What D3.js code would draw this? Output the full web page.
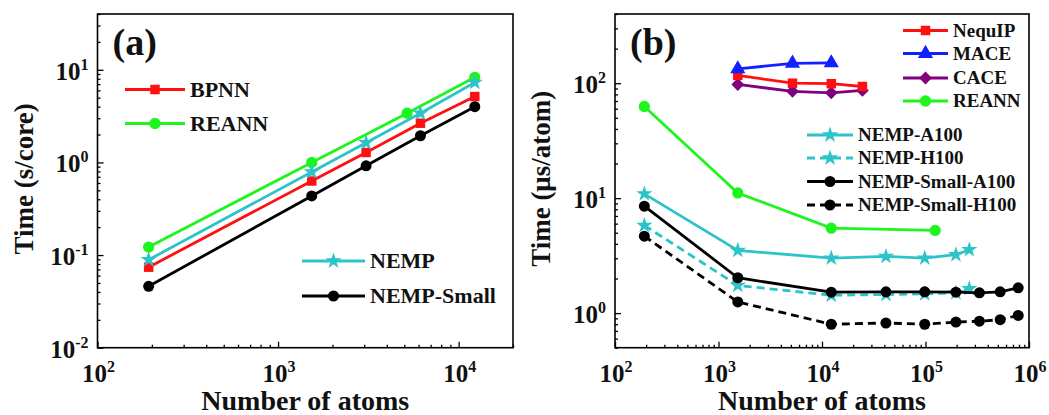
<!DOCTYPE html>
<html>
<head>
<meta charset="utf-8">
<script src="https://cdn.jsdelivr.net/npm/d3@7"></script>
<style>
  body { margin: 0; background: #fff; }
  text { font-family: "Liberation Serif", "Times New Roman", serif; font-weight: bold; fill: #111; }
</style>
</head>
<body>
<div id="chart"></div>
<script>
// ---- panel (a) data: time per core vs number of atoms ----
const atomsA = [192, 1536, 3072, 6144, 12288];
const atomsReannA = [192, 1536, 5184, 12288];
const bpnnA = [0.074, 0.63, 1.28, 2.65, 5.14];
const reannA = [0.122, 1.0, 3.4, 8.3];
const nempA = [0.089, 0.79, 1.63, 3.4, 7.3];
const nempSmallA = [0.046, 0.435, 0.92, 1.94, 4.0];

// ---- panel (b) data: time per atom vs number of atoms ----
const atomsNequip = [1536, 5184, 12288, 24576];
const nequipB = [117, 100, 99, 93.6];
const atomsMace = [1536, 5184, 12288];
const maceB = [133, 149, 150];
const caceB = [97.5, 85, 82.5, 86.5];
const atomsReannB = [192, 1536, 12288, 124000];
const reannB = [62.7, 11.1, 5.48, 5.24];
const atomsNemp = [192, 1536, 12288, 41472, 98304, 196608, 265000];
const nempA100 = [10.9, 3.51, 3.01, 3.11, 3.01, 3.22, 3.56];
const nempH100 = [5.79, 1.74, 1.43, 1.45, 1.47, 1.5, 1.63];
const atomsSmall = [192, 1536, 12288, 41472, 98304, 196608, 331776, 526848, 786432];
const smallA100 = [8.52, 2.03, 1.52, 1.53, 1.53, 1.52, 1.5, 1.53, 1.66];
const smallH100 = [4.67, 1.25, 0.8, 0.82, 0.8, 0.835, 0.85, 0.876, 0.955];

// tick labels (exponents of the decades)
const xExpA = [2, 3, 4];
const yExpA = [-2, -1, 0, 1];
const xExpB = [2, 3, 4, 5, 6];
const yExpB = [0, 1, 2];

const colors = {
  red: "#ff1010",
  green: "#1ef51e",
  cyan: "#2cc4c8",
  black: "#000000",
  blue: "#1020ff",
  purple: "#800080",
};

const W = 1049, H = 415;
const svg = d3.select("#chart").append("svg")
  .attr("width", W).attr("height", H);

const zip = (xs, ys) => xs.map((x, i) => ({ x: x, y: ys[i] }));

// each panel: box in pixels plus log domains
const panelA = {
  left: 97.5, right: 513, top: 14, bottom: 347.7,
  xDomain: [100, 20000], yDomain: [0.01, 40],
  xExp: xExpA, yExp: yExpA,
  tag: "(a)", yTitle: "Time (s/core)",
  series: [
    { name: "BPNN", data: zip(atomsA, bpnnA), color: colors.red, symbol: d3.symbolSquare, size: 90 },
    { name: "REANN", data: zip(atomsReannA, reannA), color: colors.green, symbol: d3.symbolCircle, size: 100 },
    { name: "NEMP", data: zip(atomsA, nempA), color: colors.cyan, symbol: d3.symbolStar, size: 82 },
    { name: "NEMP-Small", data: zip(atomsA, nempSmallA), color: colors.black, symbol: d3.symbolCircle, size: 95 },
  ],
};

const panelB = {
  left: 615, right: 1029, top: 14, bottom: 347.7,
  xDomain: [100, 1e6], yDomain: [0.5, 400],
  xExp: xExpB, yExp: yExpB,
  tag: "(b)", yTitle: "Time (\u03bcs/atom)",
  series: [
    { name: "NEMP-Small-H100", data: zip(atomsSmall, smallH100), color: colors.black, symbol: d3.symbolCircle, size: 95, dash: "8,5" },
    { name: "NEMP-H100", data: zip(atomsNemp, nempH100), color: colors.cyan, symbol: d3.symbolStar, size: 82, dash: "8,5" },
    { name: "NEMP-Small-A100", data: zip(atomsSmall, smallA100), color: colors.black, symbol: d3.symbolCircle, size: 95 },
    { name: "NEMP-A100", data: zip(atomsNemp, nempA100), color: colors.cyan, symbol: d3.symbolStar, size: 82 },
    { name: "REANN", data: zip(atomsReannB, reannB), color: colors.green, symbol: d3.symbolCircle, size: 100 },
    { name: "CACE", data: zip(atomsNequip, caceB), color: colors.purple, symbol: d3.symbolDiamond2, size: 105 },
    { name: "NequIP", data: zip(atomsNequip, nequipB), color: colors.red, symbol: d3.symbolSquare, size: 90 },
    { name: "MACE", data: zip(atomsMace, maceB), color: colors.blue, symbol: d3.symbolTriangle, size: 100 },
  ],
};

// legend rows: series name, start of sample line, row height
const legendA = [
  { name: "BPNN", x: 125, y: 89.5, len: 60 },
  { name: "REANN", x: 125, y: 123.5, len: 60 },
  { name: "NEMP", x: 302, y: 261, len: 63 },
  { name: "NEMP-Small", x: 302, y: 296, len: 63 },
];
const legendB = [
  { name: "NequIP", x: 903, y: 30.5, len: 45 },
  { name: "MACE", x: 903, y: 53.5, len: 45 },
  { name: "CACE", x: 903, y: 78, len: 45 },
  { name: "REANN", x: 903, y: 101, len: 45 },
  { name: "NEMP-A100", x: 807, y: 135, len: 46 },
  { name: "NEMP-H100", x: 807, y: 158, len: 46 },
  { name: "NEMP-Small-A100", x: 807, y: 181.5, len: 46 },
  { name: "NEMP-Small-H100", x: 807, y: 205, len: 46 },
];

drawPanel(panelA, legendA, 22);
drawPanel(panelB, legendB, 19);

function minorTicks(domain) {
  const out = [];
  for (let e = Math.floor(Math.log10(domain[0])); e <= Math.ceil(Math.log10(domain[1])); e++) {
    for (let m = 2; m <= 9; m++) {
      const v = m * Math.pow(10, e);
      if (v >= domain[0] && v <= domain[1]) out.push(v);
    }
  }
  return out;
}

function drawPanel(p, legend, legendFont) {
  const x = d3.scaleLog().domain(p.xDomain).range([p.left, p.right]);
  const y = d3.scaleLog().domain(p.yDomain).range([p.bottom, p.top]);
  const g = svg.append("g");

  // inward major + minor ticks, labels drawn separately
  const majorX = p.xExp.map(e => Math.pow(10, e));
  const majorY = p.yExp.map(e => Math.pow(10, e));
  g.append("g").attr("transform", `translate(0,${p.bottom})`)
    .call(d3.axisBottom(x).tickValues(majorX).tickSize(-6).tickFormat(""))
    .call(a => a.select(".domain").remove());
  g.append("g").attr("transform", `translate(0,${p.bottom})`)
    .call(d3.axisBottom(x).tickValues(minorTicks(p.xDomain)).tickSize(-3).tickFormat(""))
    .call(a => a.select(".domain").remove());
  g.append("g").attr("transform", `translate(${p.left},0)`)
    .call(d3.axisLeft(y).tickValues(majorY).tickSize(-6).tickFormat(""))
    .call(a => a.select(".domain").remove());
  g.append("g").attr("transform", `translate(${p.left},0)`)
    .call(d3.axisLeft(y).tickValues(minorTicks(p.yDomain)).tickSize(-3).tickFormat(""))
    .call(a => a.select(".domain").remove());
  g.selectAll(".tick line").attr("stroke", "#000").attr("stroke-width", 1.3);

  // frame
  g.append("rect")
    .attr("x", p.left).attr("y", p.top)
    .attr("width", p.right - p.left).attr("height", p.bottom - p.top)
    .attr("fill", "none").attr("stroke", "#000").attr("stroke-width", 1.6);

  // x tick labels
  p.xExp.forEach(e => {
    const t = g.append("text").attr("x", x(Math.pow(10, e)) + 1).attr("y", 382)
      .attr("text-anchor", "middle").style("font-size", "25px");
    t.append("tspan").text("10");
    t.append("tspan").attr("dy", -10).style("font-size", "16px").text(e);
  });
  // y tick labels
  p.yExp.forEach(e => {
    const t = g.append("text").attr("x", p.left - 9).attr("y", y(Math.pow(10, e)) + 10)
      .attr("text-anchor", "end").style("font-size", "25px");
    t.append("tspan").text("10");
    t.append("tspan").attr("dy", -10).style("font-size", "16px").text(e);
  });

  // axis titles
  g.append("text")
    .attr("x", (p.left + p.right) / 2).attr("y", 410)
    .attr("text-anchor", "middle").style("font-size", "28px")
    .text("Number of atoms");
  g.append("text")
    .attr("transform", `translate(${p.left - 65},${(p.top + p.bottom) / 2 - 2}) rotate(-90)`)
    .attr("text-anchor", "middle").style("font-size", "27px")
    .text(p.yTitle);

  // panel tag
  g.append("text").attr("x", p.left + 15).attr("y", 55)
    .style("font-size", "38px").text(p.tag);

  // data lines and markers
  const line = d3.line().x(d => x(d.x)).y(d => y(d.y));
  p.series.forEach(s => {
    g.append("path").datum(s.data)
      .attr("d", line).attr("fill", "none")
      .attr("stroke", s.color).attr("stroke-width", 2.8)
      .attr("stroke-dasharray", s.dash || null);
    g.selectAll(null).data(s.data).enter().append("path")
      .attr("d", d3.symbol().type(s.symbol).size(s.size))
      .attr("transform", d => `translate(${x(d.x)},${y(d.y)})`)
      .attr("fill", s.color);
  });

  // legend
  legend.forEach(l => {
    const s = p.series.find(d => d.name === l.name);
    g.append("line")
      .attr("x1", l.x).attr("x2", l.x + l.len).attr("y1", l.y).attr("y2", l.y)
      .attr("stroke", s.color).attr("stroke-width", 2.8)
      .attr("stroke-dasharray", s.dash || null);
    g.append("path")
      .attr("d", d3.symbol().type(s.symbol).size(s.size))
      .attr("transform", `translate(${l.x + l.len / 2},${l.y})`)
      .attr("fill", s.color);
    g.append("text").attr("x", l.x + l.len + 5).attr("y", l.y + legendFont * 0.33)
      .style("font-size", legendFont + "px").text(l.name);
  });
}
</script>
</body>
</html>
